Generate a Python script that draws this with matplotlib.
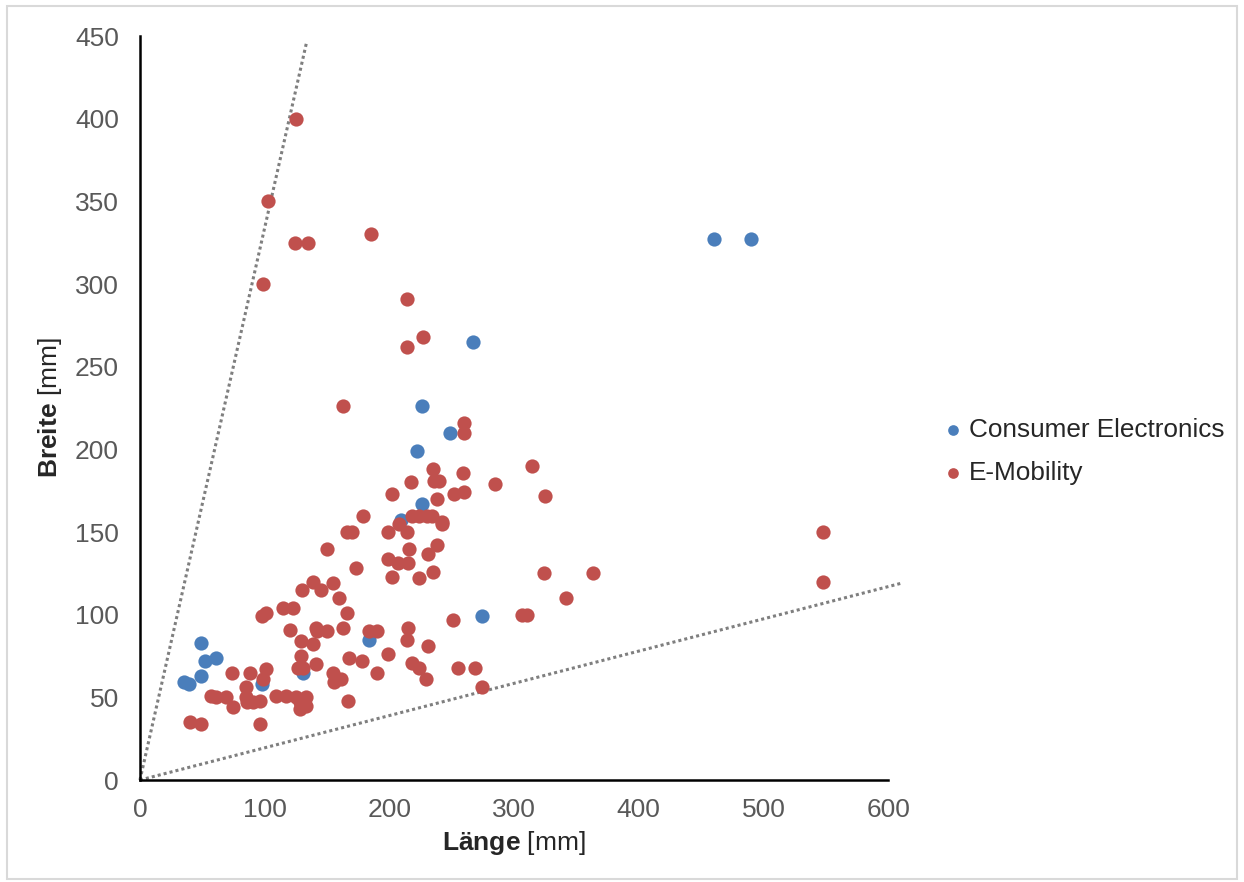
import numpy as np
import matplotlib
matplotlib.use('Agg')
import matplotlib.pyplot as plt
from matplotlib.patches import Rectangle

plt.rcParams['font.family'] = ['Liberation Sans', 'DejaVu Sans']
plt.rcParams['mathtext.fontset'] = 'custom'
plt.rcParams['mathtext.rm'] = 'Liberation Sans'
plt.rcParams['mathtext.bf'] = 'Liberation Sans:bold'

# Consumer Electronics (Länge, Breite) in mm
ce_len = [460, 490, 267, 226, 222, 249, 226, 209, 274, 184, 98, 131,
          49, 52, 61, 49, 35, 39]
ce_wid = [327, 327, 265, 226, 199, 210, 167, 157, 99, 85, 58, 65,
          83, 72, 74, 63, 59, 58]

# E-Mobility (Länge, Breite) in mm
em_len = [125, 103, 124, 135, 185, 99, 214, 214, 227, 163,
          260, 260, 235, 259, 314, 217, 236, 240, 285, 325,
          202, 252, 260, 238, 179, 218, 224, 230, 234, 208,
          242, 166, 170, 199, 214, 150, 216, 238, 231, 199,
          207, 215, 173, 202, 224, 235, 324, 363, 130, 139,
          145, 155, 160, 166, 98, 101, 115, 123, 120, 141,
          142, 150, 163, 129, 139, 184, 190, 129, 127, 131,
          141, 168, 178, 190, 155, 156, 161, 167, 74, 88,
          101, 99, 57, 61, 69, 75, 85, 85, 86, 91,
          96, 109, 117, 125, 133, 128, 133, 128, 40, 49,
          96, 548, 548, 342, 251, 306, 310, 215, 214, 231,
          199, 218, 224, 229, 255, 269, 274, 242]
em_wid = [400, 350, 325, 325, 330, 300, 291, 262, 268, 226,
          216, 210, 188, 186, 190, 180, 181, 181, 179, 172,
          173, 173, 174, 170, 160, 160, 160, 160, 160, 155,
          156, 150, 150, 150, 150, 140, 140, 142, 137, 134,
          131, 131, 128, 123, 122, 126, 125, 125, 115, 120,
          115, 119, 110, 101, 99, 101, 104, 104, 91, 92,
          90, 90, 92, 84, 82, 90, 90, 75, 68, 68,
          70, 74, 72, 65, 65, 59, 61, 48, 65, 65,
          67, 61, 51, 50, 50, 44, 56, 50, 47, 47,
          48, 51, 51, 50, 50, 47, 45, 43, 35, 34,
          34, 150, 120, 110, 97, 100, 100, 92, 85, 81,
          76, 71, 68, 61, 68, 68, 56, 155]

# boundary lines through the origin (Breite/Länge ratios)
ratio_hi = 3.34
ratio_lo = 0.195

blue = '#4A7EBB'
red = '#C0504D'
grey = '#595959'

fig = plt.figure(figsize=(12.44, 8.82), dpi=100)
ax = fig.add_axes([0.1125, 0.1156, 0.6015, 0.8435])

fig.patches.append(Rectangle((0.006, 0.003), 0.988, 0.99, transform=fig.transFigure,
                             fill=False, edgecolor='#D9D9D9', linewidth=1.5))

xs = np.array([0, 133.6])
ax.plot(xs, ratio_hi * xs, linestyle=(0, (1, 1)), color='#7F7F7F', linewidth=2.2,
        clip_on=False, zorder=1)
xs = np.array([0, 612])
ax.plot(xs, ratio_lo * xs, linestyle=(0, (1, 1)), color='#7F7F7F', linewidth=2.2,
        clip_on=False, zorder=1)

ax.scatter(ce_len, ce_wid, s=105, color=blue, label='Consumer Electronics', zorder=2,
           linewidths=0)
ax.scatter(em_len, em_wid, s=105, color=red, label='E-Mobility', zorder=3,
           linewidths=0)

ax.set_xlim(0, 600)
ax.set_ylim(0, 450)
ax.set_xticks(np.arange(0, 601, 100))
ax.set_yticks(np.arange(0, 451, 50))
ax.tick_params(length=0, labelsize=19, labelcolor=grey)
ax.tick_params(axis='y', pad=15)
ax.tick_params(axis='x', pad=13)
for s in ['top', 'right']:
    ax.spines[s].set_visible(False)
for s in ['left', 'bottom']:
    ax.spines[s].set_linewidth(1.8)
    ax.spines[s].set_color('black')

ax.set_xlabel(r'$\bf{Länge}$ [mm]', fontsize=19, color='#262626', labelpad=5)
ax.set_ylabel(r'$\bf{Breite}$ [mm]', fontsize=19, color='#262626', labelpad=8)

leg = ax.legend(loc='center left', bbox_to_anchor=(1.041, 0.442), frameon=False,
                fontsize=18.8, handlelength=0.8, handletextpad=0.2,
                markerscale=0.75, labelspacing=0.72)
for t in leg.get_texts():
    t.set_color('#262626')

fig.savefig('out.png', dpi=100)
